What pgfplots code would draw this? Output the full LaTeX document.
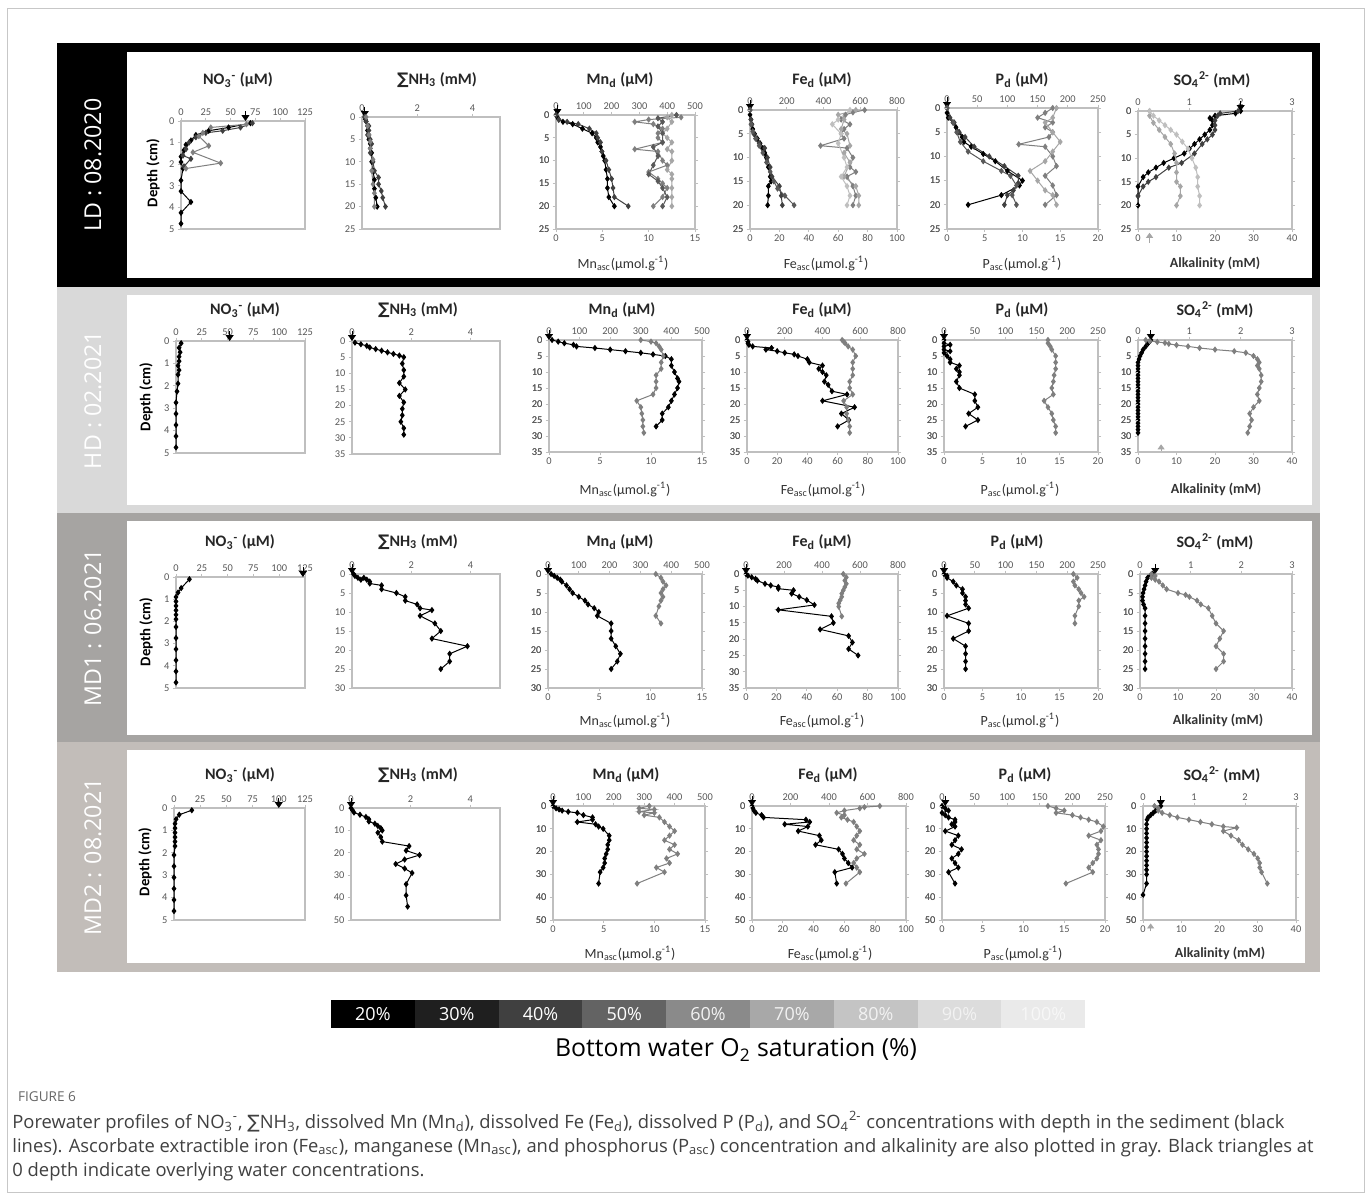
\documentclass[border=0pt]{standalone}
\usepackage{pgfplots}
\pgfplotsset{compat=1.18}
\usepackage{fontspec}
\setmainfont{Carlito}
\newfontfamily\osans{Open Sans}
\newfontfamily\djv{DejaVu Sans}
\usetikzlibrary{arrows.meta}

\definecolor{axgray}{HTML}{BFBFBF}
\definecolor{tkgray}{HTML}{595959}
\definecolor{bandB}{HTML}{D9D9D9}
\definecolor{bandC}{HTML}{A6A4A2}
\definecolor{bandD}{HTML}{C2BDB9}
\definecolor{capgray}{HTML}{404040}
\definecolor{g1}{HTML}{404040}
\definecolor{g2}{HTML}{595959}
\definecolor{g3}{HTML}{7F7F7F}
\definecolor{g4}{HTML}{A6A6A6}
\definecolor{g5}{HTML}{BFBFBF}

\newcommand{\ssum}{{\djv\char"2211}}
\newcommand{\ttl}{\fontsize{8}{9}\selectfont\bfseries}
\newcommand{\blab}{\fontsize{7}{8}\selectfont}

\pgfplotsset{
  pos/.style 2 args={at={(#1*0.5pt,-#2*0.5pt)}},
  pbase/.style={scale only axis, anchor=south west, clip=false,
    axis line style={axgray, line width=0.6pt},
    major tick style={axgray, line width=0.5pt},
    major tick length=1.6pt, tick align=outside,
    y filter/.expression={-y},
    yticklabel={\pgfmathparse{-1*(\tick)}\pgfmathprintnumber{\pgfmathresult}},
    ticklabel style={font=\fontsize{5.2}{6}\selectfont, text=tkgray},
    /pgf/number format/assume math mode=true,
    xticklabel style={inner sep=1pt}, yticklabel style={inner sep=1.5pt},
  },
  btop/.style={pbase, xtick pos=right, xticklabel pos=right, ytick pos=left},
  bbot/.style={pbase, axis line style={draw=none}, xtick pos=left, xticklabel pos=left, ytick=\empty},
  k/.style={black, line width=0.5pt, mark=diamond*, mark size=1.2pt},
  c/.style={#1, line width=0.5pt, mark=diamond*, mark size=1.2pt, mark options={solid, fill=#1}},
  arr/.style={black, line width=0.4pt, -{Triangle[width=4pt,length=3pt]}},
  garr/.style={g4, line width=0.4pt, -{Triangle[width=3.5pt,length=2.5pt]}},
  cNO/.style={xmin=0, xmax=125, xtick={0,25,...,125}, ymin=-5, ymax=0, ytick={-5,-4,...,0}},
  cNH/.style={xmin=0, xmax=5, xtick={0,2,4}},
  cMn/.style={xmin=0, xmax=500, xtick={0,100,...,500}},
  cMnb/.style={xmin=0, xmax=15, xtick={0,5,10,15}},
  cFe/.style={xmin=0, xmax=800, xtick={0,200,...,800}},
  cFeb/.style={xmin=0, xmax=100, xtick={0,20,...,100}},
  cP/.style={xmin=0, xmax=250, xtick={0,50,...,250}},
  cPb/.style={xmin=0, xmax=20, xtick={0,5,...,20}},
  cS/.style={xmin=0, xmax=3, xtick={0,1,2,3}},
  cSb/.style={xmin=0, xmax=40, xtick={0,10,...,40}},
  d25/.style={ymin=-25, ymax=0, ytick={-25,-20,...,0}},
  d30/.style={ymin=-30, ymax=0, ytick={-30,-25,...,0}},
  d35/.style={ymin=-35, ymax=0, ytick={-35,-30,...,0}},
  d50/.style={ymin=-50, ymax=0, ytick={-50,-40,...,0}},
}

\begin{document}
\begin{tikzpicture}
% ---------- frame, bands, labels ----------
\begin{scope}[x=0.5pt,y=-0.5pt]
\path (0,0) rectangle (1372,1201);
\draw[black!22, line width=0.5pt] (7.5,8.5) rectangle (1364.5,1192.5);
\fill[black] (57,43) rectangle (1320,287);
\fill[white] (127,52) rectangle (1312,278);
\fill[bandB] (57,287) rectangle (1320,513);
\fill[white] (127,295) rectangle (1312,505);
\fill[bandC] (57,513) rectangle (1320,742);
\fill[white] (127,521) rectangle (1312,735);
\fill[bandD] (57,742) rectangle (1320,972);
\fill[white] (127,750) rectangle (1305,963);

\begin{scope}[every node/.style={rotate=90, text=white, font=\osans\fontsize{11.6}{13}\selectfont}]
\node at (93,165) {LD : 08.2020};
\node at (93,400) {HD : 02.2021};
\node at (93,628) {MD1 : 06.2021};
\node at (93,857) {MD2 : 08.2021};
\end{scope}

% panel titles
\begin{scope}[every node/.style={font=\ttl, text=black!85}]
\foreach \yy/\xa/\xb/\xc/\xd/\xe/\xf in {80/238/437/620/822/1022/1212, 310/245/418/622/822/1022/1215, 542/240/418/620/822/1017/1215, 775/240/418/626/828/1025/1222}{
  \node at (\xa,\yy) {NO\textsubscript{3}\textsuperscript{-} (µM)};
  \node at (\xb,\yy) {\ssum NH\textsubscript{3} (mM)};
  \node at (\xc,\yy) {Mn\textsubscript{d} (µM)};
  \node at (\xd,\yy) {Fe\textsubscript{d} (µM)};
  \node at (\xe,\yy) {P\textsubscript{d} (µM)};
  \node at (\xf,\yy) {SO\textsubscript{4}\textsuperscript{2-} (mM)};
}
\end{scope}
% bottom labels
\begin{scope}[every node/.style={font=\blab, text=black!80}]
\foreach \yy/\xc/\xd/\xe/\xf in {263/623/826/1022/1215, 489/625/823/1020/1216, 720/625/822/1020/1218, 953/630/830/1023/1220}{
  \node at (\xc,\yy) {Mn\textsubscript{asc}(µmol.g\textsuperscript{-1})};
  \node at (\xd,\yy) {Fe\textsubscript{asc}(µmol.g\textsuperscript{-1})};
  \node at (\xe,\yy) {P\textsubscript{asc}(µmol.g\textsuperscript{-1})};
  \node at (\xf,\yy) {\bfseries Alkalinity (mM)};
}
\end{scope}
% depth labels
\begin{scope}[every node/.style={rotate=90, font=\fontsize{7.4}{8}\selectfont\bfseries}]
\node at (153,173) {Depth (cm)};
\node at (146,397) {Depth (cm)};
\node at (146,632) {Depth (cm)};
\node at (145,862) {Depth (cm)};
\end{scope}

% O2 saturation scale
\foreach \i/\cc/\tt/\tc in {0/000000/20/FFFFFF, 1/1F1F1F/30/FFFFFF, 2/404040/40/FFFFFF, 3/636363/50/FFFFFF, 4/8A8A8A/60/F2F2F2, 5/A8A8A8/70/F2F2F2, 6/C4C4C4/80/F2F2F2, 7/DCDCDC/90/F2F2F2, 8/EAEAEA/100/F7F7F7}{
  \definecolor{cb}{HTML}{\cc}\definecolor{ct}{HTML}{\tc}
  \fill[cb] ({331+\i*83.8},1000) rectangle ({331+(\i+1)*83.8},1028);
  \node[text=ct, font=\osans\fontsize{9}{10}\selectfont] at ({331+(\i+0.5)*83.8},1014) {\tt\%};
}
\node[font=\osans\fontsize{12.4}{14}\selectfont] at (736,1050) {Bottom water O\textsubscript{2} saturation (\%)};

% caption
\node[anchor=west, text=black!60, font=\osans\fontsize{6.8}{8}\selectfont] at (11,1097) {FIGURE 6};
\node[anchor=north west, align=left, text=capgray, font=\osans\fontsize{9.2}{12}\selectfont, inner sep=0pt] at (12,1111)
{Porewater profiles of NO\textsubscript{3}\textsuperscript{-}, \ssum NH\textsubscript{3}, dissolved Mn (Mn\textsubscript{d}), dissolved Fe (Fe\textsubscript{d}), dissolved P (P\textsubscript{d}), and SO\textsubscript{4}\textsuperscript{2-} concentrations with depth in the sediment (black\\
lines). Ascorbate extractible iron (Fe\textsubscript{asc}), manganese (Mn\textsubscript{asc}), and phosphorus (P\textsubscript{asc}) concentration and alkalinity are also plotted in gray. Black triangles at\\
0 depth indicate overlying water concentrations.};
\end{scope}

% ================= ROW 1 : LD 08.2020 =================
\begin{axis}[btop, cNO, pos={181}{229}, width=62pt, height=54pt]
\addplot[k] coordinates {(70,0.1)(48,0.3)(28,0.45)(15,0.65)(10,0.9)(5,1.1)(3,1.35)(0,1.65)(0,1.9)(2,2.2)(0,2.75)(0,3.25)(10,3.75)(0,4.25)(0,4.75)};
\addplot[c=g1] coordinates {(72,0.1)(60,0.3)(42,0.45)(25,0.55)(15,0.75)(8,1.0)(5,1.3)(2,1.6)(10,1.75)(3,2.1)};
\addplot[c=g3] coordinates {(66,0.15)(30,0.3)(22,0.55)(18,0.7)(28,1.15)(12,1.45)(40,1.95)(5,2.2)};
\addplot[arr] coordinates {(65,-0.45)(65,0)};
\end{axis}
\begin{axis}[btop, cNH, d25, pos={362}{229}, width=69pt, height=56pt]
\addplot[k] coordinates {(0.1,0)(0.12,0.5)(0.15,1)(0.2,2)(0.2,3)(0.25,4)(0.25,5)(0.3,6)(0.3,7)(0.35,8)(0.35,10)(0.4,12)(0.45,14)(0.45,16)(0.5,18)(0.55,20)};
\addplot[c=g1] coordinates {(0.1,0)(0.15,1)(0.25,2)(0.25,3)(0.2,4)(0.3,5)(0.35,6)(0.3,8)(0.4,10)(0.45,12)(0.6,13.5)(0.6,15)(0.7,16.5)(0.75,18)(0.85,20)};
\addplot[c=g3] coordinates {(0.15,0)(0.2,2)(0.25,4)(0.3,5.5)(0.3,7)(0.4,9.5)(0.35,12)(0.4,15)(0.45,17)(0.45,20)};
\addplot[arr] coordinates {(0.1,-2.2)(0.1,0)};
\end{axis}
\begin{axis}[btop, cMn, d25, pos={556}{229}, width=69.5pt, height=57pt]
\addplot[k] coordinates {(0,0)(5,0.5)(10,1)(25,1.5)(60,2)(95,3)(130,4)(145,5)(150,6)(160,7)(165,8)(170,9)(175,10)(180,12)(185,14)(185,16)(190,18)(210,20)};
\addplot[c=g1] coordinates {(0,0)(10,1)(40,1.5)(80,2)(120,3)(145,4)(150,5)(160,6)(165,8)(180,10)(190,12)(200,14)(205,16)(210,18)(260,20)};
\addplot[arr] coordinates {(5,-2.2)(5,0)};
\end{axis}
\begin{axis}[bbot, cMnb, d25, pos={556}{229}, width=69.5pt, height=57pt]
\addplot[c=g3] coordinates {(13.5,0.5)(10,1)(8.5,1.5)(10.5,2)(11.5,3)(11,4)(11,5)(11.5,6)(8.5,7.5)(11,8)(11.5,10)(12,11)(10,12.5)(11,14)(11.5,15)(12,16)(11.5,18)(10.5,20)};
\addplot[c=g4] coordinates {(12.5,0)(12,0.5)(12.5,1.5)(12,3)(11.5,4)(12,5)(12.5,6)(12,7.5)(12.5,8)(12.5,10)(12,12)(12.5,13)(12.5,14)(12.5,16)(12.5,18)(12.5,20)};
\addplot[c=g2] coordinates {(13,0)(11,0.7)(11.5,1.5)(11,2.5)(11.5,4)(11.5,6)(10.5,7)(11,9)(10.5,11)(10,13)(11,14.5)(11.5,16)(12,18)(11.5,20)};
\end{axis}
\begin{axis}[btop, cFe, d25, pos={750}{229}, width=73.5pt, height=59.5pt]
\addplot[k] coordinates {(0,0)(0,1)(5,2)(10,3)(15,4)(25,5)(40,6)(55,7)(70,8)(80,9)(90,10)(100,12)(110,14)(115,15)(100,16)(100,18)(96,20)};
\addplot[c=g1] coordinates {(0,0)(5,2)(10,3)(20,5)(35,6)(50,7)(80,8)(95,10)(110,12)(120,14)(160,16)(170,18)(176,20)};
\addplot[c=g2] coordinates {(0,0)(5,3)(15,4.5)(30,6)(50,7.5)(70,9)(90,11)(110,13)(130,15)(150,16.5)(190,18)(240,20)};
\addplot[arr] coordinates {(0,-2.2)(0,0)};
\end{axis}
\begin{axis}[bbot, cFeb, d25, pos={750}{229}, width=73.5pt, height=59.5pt]
\addplot[c=g3] coordinates {(78,0)(70,0.5)(65,1)(62,2)(68,3)(64,4)(62,5)(64,6)(48,7.5)(66,8)(70,10)(68,12)(72,13)(66,14)(70,16)(72,18)(70,20)};
\addplot[c=g4] coordinates {(72,0)(60,1)(64,2)(62,4)(66,5)(68,7.5)(64,9)(68,11)(64,14)(72,16)(74,18)(74,20)};
\addplot[c=g5] coordinates {(68,0)(60,2)(56,3)(62,5)(60,7)(64,10)(66,12)(62,14)(66,16)(68,18)(66,20)};
\end{axis}
\begin{axis}[btop, cP, d25, pos={947}{229}, width=75.5pt, height=60.5pt]
\addplot[k] coordinates {(0,0)(0,1)(2,2)(10,3)(15,4)(20,5)(25,6)(28,7)(40,8)(60,9.5)(80,11)(100,13)(125,15)(120,16)(90,18)(35,20)};
\addplot[c=g1] coordinates {(0,0)(5,2)(12,3)(20,5)(30,6)(45,8)(70,10)(95,12)(118,14)(118,15.5)(110,17)(100,18)(95,20)};
\addplot[c=g2] coordinates {(0,0)(10,3)(16,5)(22,7)(35,9)(60,11)(90,13)(105,14)(115,16)(108,18)(115,20)};
\addplot[arr] coordinates {(0,-2.2)(0,0)};
\end{axis}
\begin{axis}[bbot, cPb, d25, pos={947}{229}, width=75.5pt, height=60.5pt]
\addplot[c=g3] coordinates {(14,0)(13,1)(12,2)(14,3)(13,4)(14,5)(13.5,6)(9.5,7.5)(13,8)(14,10)(14.5,12)(13,14)(14,16)(14.5,18)(13,20)};
\addplot[c=g4] coordinates {(14.5,0)(14,2)(13,3)(14,5)(15,7)(14,9)(13,11)(11,13)(12,15)(13,17)(14,18)(14.5,20)};
\end{axis}
\begin{axis}[btop, cS, d25, pos={1138}{229}, width=77pt, height=59pt]
\addplot[k] coordinates {(2,0)(1.9,0.5)(1.5,1)(1.4,1.5)(1.45,2)(1.45,3)(1.4,4)(1.3,5)(1.2,6)(1.1,7)(1.0,8)(0.9,9)(0.7,10)(0.5,11)(0.35,12)(0.2,13)(0.1,14)(0,16)(0,18)(0,20)};
\addplot[c=g1] coordinates {(1.95,0)(1.6,0.5)(1.55,1)(1.5,2)(1.5,3)(1.5,4)(1.45,5)(1.35,6)(1.25,7)(1.1,9)(0.85,11)(0.6,12)(0.35,14)(0.2,15)(0.1,16)(0,18)};
\addplot[arr] coordinates {(2,-2.2)(2,0)};
\end{axis}
\begin{axis}[bbot, cSb, d25, pos={1138}{229}, width=77pt, height=59pt]
\addplot[c=g4] coordinates {(3,0)(3,1)(4,2.5)(5.5,4)(7,5.5)(8.5,7)(9.5,9)(10,11)(10,13)(10,15)(11,16)(11,18)(10,20)};
\addplot[c=g5] coordinates {(3,0)(4,1)(5.5,2)(7,3)(8.5,4)(10,5)(11.5,6.5)(13,8)(14,10)(15,12)(15.5,14)(15.5,16)(16,18)(16,20)};
\addplot[garr] coordinates {(3,28)(3,25.8)};
\end{axis}

% ================= ROW 2 : HD 02.2021 =================
\begin{axis}[btop, cNO, pos={176}{453}, width=64.5pt, height=56pt]
\addplot[k] coordinates {(5,0.1)(3,0.3)(4,0.5)(3,0.7)(3,0.9)(2,1.1)(3,1.3)(2,1.5)(2,1.9)(1,2.25)(0,2.75)(0,3.25)(0,3.75)(0,4.25)(0,4.75)};
\addplot[arr] coordinates {(52,-0.45)(52,0)};
\end{axis}
\begin{axis}[btop, cNH, d35, pos={352}{454}, width=74pt, height=56.5pt]
\addplot[k] coordinates {(0.1,0.5)(0.3,1)(0.5,1.5)(0.6,2)(0.8,2.5)(1.0,3)(1.2,3.5)(1.4,4)(1.6,4.5)(1.75,5)(1.7,7)(1.75,9)(1.75,11)(1.6,13)(1.8,15)(1.6,17)(1.75,19)(1.7,21)(1.7,23)(1.65,25)(1.75,27)(1.75,29)};
\addplot[arr] coordinates {(0,-3)(0,0)};
\end{axis}
\begin{axis}[btop, cMn, d35, pos={549}{452}, width=76.5pt, height=56pt]
\addplot[k] coordinates {(10,0)(30,0.5)(50,1)(80,1.5)(90,2)(150,2.5)(200,3)(250,3.5)(300,4)(340,4.5)(380,5)(400,6)(400,8)(410,10)(420,12)(425,13)(420,15)(410,17)(400,19)(390,21)(370,23)(370,25)(350,27)};
\addplot[arr] coordinates {(0,-3)(0,0)};
\end{axis}
\begin{axis}[bbot, cMnb, d35, pos={549}{452}, width=76.5pt, height=56pt]
\addplot[c=g3] coordinates {(9,0)(10,0.5)(10.5,1)(10.8,2)(11,3)(11.2,5)(11,7)(11,9)(10.5,11)(10.5,13)(10.5,15)(10.2,17)(8.6,19)(9,21)(9.1,23)(9.2,25)(9.2,27)(9.3,29)};
\end{axis}
\begin{axis}[btop, cFe, d35, pos={747}{452}, width=75.5pt, height=56pt]
\addplot[k] coordinates {(0,0)(5,0.5)(5,1)(10,1.5)(30,2)(130,2.5)(100,3)(160,3.5)(200,4)(250,4.5)(270,5)(320,6)(330,7)(400,8)(380,9)(400,10)(420,11)(410,13)(430,14)(450,16)(530,17)(400,19)(570,21)(500,23)(540,25)(480,27)};
\addplot[arr] coordinates {(0,-3)(0,0)};
\end{axis}
\begin{axis}[bbot, cFeb, d35, pos={747}{452}, width=75.5pt, height=56pt]
\addplot[c=g3] coordinates {(63,0)(64,0.5)(65,1)(67,2)(70,3)(72,5)(70,7)(70,9)(70,11)(68,13)(68,15)(70,17)(64,19)(66,21)(66,23)(67,25)(68,27)(68,29)};
\end{axis}
\begin{axis}[btop, cP, d35, pos={944}{452}, width=77pt, height=56pt]
\addplot[k] coordinates {(0,0)(0,1)(10,1.5)(0,2)(0,3)(10,3.5)(0,4)(5,5)(10,6)(10,7)(25,8)(20,9)(25,10)(25,11)(20,13)(25,15)(50,17)(50,19)(55,21)(40,23)(55,25)(35,27)};
\addplot[arr] coordinates {(0,-3)(0,0)};
\end{axis}
\begin{axis}[bbot, cPb, d35, pos={944}{452}, width=77pt, height=56pt]
\addplot[c=g3] coordinates {(13.5,0)(13.5,1)(13.8,2)(14,3)(14.5,5)(14.5,7)(14.5,9)(14.3,11)(14.2,13)(14,15)(14.2,17)(13,19)(13.5,21)(14,23)(14.2,25)(14.5,27)(14.5,29)};
\end{axis}
\begin{axis}[btop, cS, d35, pos={1138}{452}, width=77pt, height=56pt]
\addplot[k] coordinates {(0.25,0)(0.22,0.5)(0.2,1)(0.15,2)(0.1,3)(0.07,4)(0.04,5)(0.02,6)(0,7)(0,8)(0,9)(0,10)(0,11)(0,12)(0,13)(0,14)(0,15)(0,16)(0,17)(0,18)(0,19)(0,20)(0,21)(0,22)(0,23)(0,24)(0,25)(0,26)(0,27)(0,28)(0,29)};
\addplot[arr] coordinates {(0.25,-3)(0.25,0)};
\end{axis}
\begin{axis}[bbot, cSb, d35, pos={1138}{452}, width=77pt, height=56pt]
\addplot[c=g3] coordinates {(2,0)(3,0.3)(5,0.6)(7,0.9)(8,1.2)(10,1.6)(13,2)(16,2.5)(20,3)(25,3.5)(28,4)(30,5)(31,6)(31.5,7)(31,8)(31.5,9)(32,11)(32,13)(31.5,15)(31,17)(31.5,19)(30,21)(29,23)(29.5,25)(29,27)(28.5,29)};
\addplot[garr] coordinates {(6,34.6)(6,32.6)};
\end{axis}

% ================= ROW 3 : MD1 06.2021 =================
\begin{axis}[btop, cNO, pos={176}{688}, width=64.5pt, height=55.5pt]
\addplot[k] coordinates {(13,0.1)(5,0.5)(2,0.7)(0,0.9)(0,1.1)(0,1.3)(0,1.5)(0,1.7)(0,1.9)(0,2.25)(0,2.75)(0,3.25)(0,3.75)(0,4.25)(0,4.75)};
\addplot[arr] coordinates {(123,-0.45)(123,0)};
\end{axis}
\begin{axis}[btop, cNH, d30, pos={352}{688}, width=74pt, height=57pt]
\addplot[k] coordinates {(0.05,0)(0.1,0.5)(0.2,1)(0.3,1.5)(0.4,1)(0.5,1.5)(0.6,2)(0.6,2.5)(1.0,3)(1.0,4)(1.5,5)(1.8,6)(1.8,7)(2.2,8)(2.3,9)(2.7,9.5)(2.3,11)(2.8,13)(3.0,15)(2.7,17)(3.9,19)(3.3,21)(3.3,23)(3.0,25)};
\addplot[arr] coordinates {(0,-2.6)(0,0)};
\end{axis}
\begin{axis}[btop, cMn, d30, pos={548}{688}, width=77pt, height=57pt]
\addplot[k] coordinates {(10,0)(20,0.5)(30,1)(40,1.5)(45,2)(60,3)(70,4)(80,5)(100,6)(120,7)(130,8)(150,9)(165,10)(160,11)(205,13)(205,15)(205,17)(220,19)(235,21)(225,23)(205,25)};
\addplot[arr] coordinates {(0,-2.6)(0,0)};
\end{axis}
\begin{axis}[bbot, cMnb, d30, pos={548}{688}, width=77pt, height=57pt]
\addplot[c=g3] coordinates {(10.5,0)(11,1)(11.2,2)(11.5,3)(11.2,4)(11,5)(11.2,6)(11,7)(10.8,8.5)(10.5,11)(11,13)};
\end{axis}
\begin{axis}[btop, cFe, d35, pos={746}{688}, width=76pt, height=57pt]
\addplot[k] coordinates {(0,0)(10,0.5)(30,1)(50,1.5)(60,2)(100,3)(130,3.5)(170,4)(170,4.5)(250,5)(240,6)(280,7)(320,8)(360,9.5)(170,11)(450,13)(460,15)(390,17)(540,19)(560,21)(540,23)(590,25)};
\addplot[arr] coordinates {(0,-3)(0,0)};
\end{axis}
\begin{axis}[bbot, cFeb, d35, pos={746}{688}, width=76pt, height=57pt]
\addplot[c=g3] coordinates {(64,0)(66,1)(65,2)(66,3)(65,4)(64,5)(63,6)(63,7)(62,8)(61,9)(61,10)(63,13)};
\end{axis}
\begin{axis}[btop, cP, d30, pos={944}{688}, width=77pt, height=57pt]
\addplot[k] coordinates {(0,0)(5,0.5)(5,1)(15,2)(20,3)(30,4)(30,5)(35,6)(35,7)(35,8)(40,9)(5,11)(40,13)(40,15)(15,17)(35,19)(35,21)(35,23)(35,25)};
\addplot[arr] coordinates {(0,-2.6)(0,0)};
\end{axis}
\begin{axis}[bbot, cPb, d30, pos={944}{688}, width=77pt, height=57pt]
\addplot[c=g3] coordinates {(16.8,0)(17.3,1)(16.8,2)(17,3)(17.5,4)(17.8,5)(18.2,6)(17.5,7)(17.5,8.5)(17,11)(17,13)};
\end{axis}
\begin{axis}[btop, cS, d30, pos={1140}{688}, width=76pt, height=57pt]
\addplot[k] coordinates {(0.25,0)(0.2,0.5)(0.15,1)(0.12,2)(0.1,3)(0.08,4)(0.06,5)(0.05,6)(0.05,7)(0.07,8)(0.1,9)(0.1,11)(0.1,13)(0.1,15)(0.1,17)(0.1,19)(0.1,21)(0.1,23)(0.1,25)};
\addplot[arr] coordinates {(0.3,-2.6)(0.3,0)};
\end{axis}
\begin{axis}[bbot, cSb, d30, pos={1140}{688}, width=76pt, height=57pt]
\addplot[c=g3] coordinates {(3,0)(4,0.5)(3,1)(4,1.5)(5,2)(6,3)(7,4)(10,5)(12,5.5)(13,6)(15,7)(16,8)(18,9)(19,11)(20,13)(22,15)(21,17)(20,19)(22,21)(22,23)(20,25)};
\end{axis}

% ================= ROW 4 : MD2 08.2021 =================
\begin{axis}[btop, cNO, pos={174}{920}, width=65.5pt, height=56pt]
\addplot[k] coordinates {(17,0.1)(5,0.3)(2,0.5)(1,0.7)(1,0.9)(1,1.1)(1,1.3)(1,1.5)(1,1.7)(0,2.1)(0,2.6)(0,3.1)(0,3.6)(0,4.1)(0,4.6)};
\addplot[arr] coordinates {(100,-0.45)(100,0)};
\end{axis}
\begin{axis}[btop, cNH, d50, pos={351}{920}, width=74.5pt, height=56pt]
\addplot[k] coordinates {(0,0)(0.05,1)(0.1,2)(0.3,3)(0.5,4)(0.6,5)(0.6,6)(0.8,7)(0.9,8)(1.0,9)(1.05,10)(0.9,11)(1.0,13)(1.05,15)(1.95,17)(1.85,19)(2.3,21)(1.8,23)(1.5,25)(1.8,27)(2.05,29)(1.85,34)(1.85,39)(1.9,44)};
\addplot[arr] coordinates {(0,-4.4)(0,0)};
\end{axis}
\begin{axis}[btop, cMn, d50, pos={553}{920}, width=76pt, height=57pt]
\addplot[k] coordinates {(0,0)(10,1)(20,1.5)(30,2)(50,2.5)(80,3)(100,4)(130,5)(130,6)(80,7)(140,8)(150,9)(165,10)(185,13)(185,15)(180,17)(180,19)(175,21)(170,23)(170,25)(165,27)(155,29)(150,34)};
\addplot[arr] coordinates {(0,-4.4)(0,0)};
\end{axis}
\begin{axis}[bbot, cMnb, d50, pos={553}{920}, width=76pt, height=57pt]
\addplot[c=g3] coordinates {(9.5,0)(8.5,1)(10,1.5)(8.5,2.5)(10,3)(9,4)(10.5,5)(11,7)(11.5,9)(12,11)(11.5,13)(11,15)(12,17)(11.5,19)(12.3,21)(11.2,23)(11.5,25)(10.2,27)(11,29)(8.3,34)};
\end{axis}
\begin{axis}[btop, cFe, d50, pos={752}{920}, width=77pt, height=57pt]
\addplot[k] coordinates {(0,0)(5,1)(10,2)(20,3)(50,4)(60,5)(280,6)(300,7)(170,8)(290,9)(240,11)(350,13)(360,15)(330,17)(450,19)(470,21)(480,23)(500,25)(520,27)(430,29)(440,34)};
\addplot[arr] coordinates {(0,-4.4)(0,0)};
\end{axis}
\begin{axis}[bbot, cFeb, d50, pos={752}{920}, width=77pt, height=57pt]
\addplot[c=g3] coordinates {(83,0)(73,0.5)(70,1)(60,2)(55,3)(60,4)(58,5)(62,6)(66,7)(68,9)(70,11)(68,13)(66,15)(70,17)(68,19)(73,21)(68,23)(66,25)(68,27)(70,29)(61,34)};
\end{axis}
\begin{axis}[btop, cP, d50, pos={942}{920}, width=81.5pt, height=57pt]
\addplot[k] coordinates {(0,0)(5,1)(10,2)(0,3)(5,4)(10,5)(20,6)(20,7)(15,8)(20,9)(5,11)(25,13)(20,15)(15,17)(30,19)(25,21)(15,23)(20,25)(25,27)(10,29)(20,34)};
\addplot[arr] coordinates {(5,-4.4)(5,0)};
\end{axis}
\begin{axis}[bbot, cPb, d50, pos={942}{920}, width=81.5pt, height=57pt]
\addplot[c=g3] coordinates {(13,0)(14,1)(15,2)(14,3)(16,4)(17,5)(18,6)(19,7)(19.8,9)(19.5,11)(18,13)(19.5,15)(19,17)(19.2,19)(19.2,21)(19,23)(18.5,25)(18,27)(18.5,29)(15.2,34)};
\end{axis}
\begin{axis}[btop, cS, d50, pos={1143}{920}, width=76.5pt, height=57pt]
\addplot[k] coordinates {(0.35,0)(0.3,1)(0.25,2)(0.2,3)(0.15,4)(0.1,5)(0.08,6)(0.07,8)(0.07,10)(0.07,12)(0.07,14)(0.07,16)(0.07,18)(0.07,20)(0.07,22)(0.07,24)(0.07,26)(0.07,28)(0.07,30)(0.07,34)(0,39)};
\addplot[arr] coordinates {(0.35,-4.4)(0.35,0)};
\end{axis}
\begin{axis}[bbot, cSb, d50, pos={1143}{920}, width=76.5pt, height=57pt]
\addplot[c=g3] coordinates {(3,0)(4,1)(4,2)(5,3)(7,4)(9,5)(12,6)(15,7)(18,8)(21,9)(24.5,9.5)(21,11)(23,13)(25,15)(26,17)(27.5,19)(29,21)(30,23)(30.5,25)(30.5,27)(31,29)(32.5,34)};
\addplot[garr] coordinates {(2,55)(2,51.5)};
\end{axis}
\end{tikzpicture}
\end{document}
